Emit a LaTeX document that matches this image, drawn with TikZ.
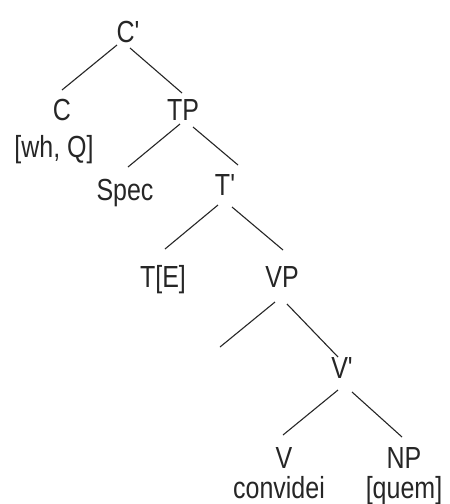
\documentclass[tikz,border=0pt]{standalone}
\usepackage{graphicx}
\usepackage{fontspec}
\setmainfont{Liberation Sans}[Ligatures=TeXOff]
\newcommand\stx[1]{\scalebox{1}[1.22]{#1}}
\begin{document}
\begin{tikzpicture}[x=1pt,y=-1pt,
  lab/.style={inner sep=0pt, anchor=base, text=black!85, font=\fontsize{25}{25}\selectfont},
  edge/.style={draw=black!85, line width=1.1pt}]
\useasboundingbox[fill=white] (0,0) rectangle (450,504);
\node[lab] (Cbar) at (128,42) {\stx{C'}};
\node[lab] (C) at (62,120) {\stx{C}};
\node[lab] (CF) at (54,157) {\stx{[wh, Q]}};
\node[lab] (TP) at (183,120) {\stx{TP}};
\node[lab] (Spec) at (125,200) {\stx{Spec}};
\node[lab] (Tbar) at (225,195) {\stx{T'}};
\node[lab] (TE) at (163,287) {\stx{T[E]}};
\node[lab] (VP) at (282,287) {\stx{VP}};
\coordinate (e) at (220,347);
\node[lab] (Vbar) at (342,378) {\stx{V'}};
\node[lab] (V) at (284,468) {\stx{V}};
\node[lab] (conv) at (279,498) {\stx{convidei}};
\node[lab] (NP) at (404,468) {\stx{NP}};
\node[lab] (quem) at (404,498) {\stx{[quem]}};
\draw[edge] ([shift={(-11,3)}]Cbar.base) -- ([shift={(0,-30)}]C.base);
\draw[edge] ([shift={(2,6)}]Cbar.base) -- ([shift={(-1,-27)}]TP.base);
\draw[edge] ([shift={(-3,4)}]TP.base) -- ([shift={(3,-33)}]Spec.base);
\draw[edge] ([shift={(10,7)}]TP.base) -- ([shift={(13,-30)}]Tbar.base);
\draw[edge] ([shift={(-7,10)}]Tbar.base) -- ([shift={(2,-38)}]TE.base);
\draw[edge] ([shift={(7,12)}]Tbar.base) -- ([shift={(1,-37)}]VP.base);
\draw[edge] ([shift={(-7,15)}]VP.base) -- (e);
\draw[edge] ([shift={(5,17)}]VP.base) -- ([shift={(-4,-21)}]Vbar.base);
\draw[edge] ([shift={(-4,12)}]Vbar.base) -- ([shift={(-1,-33)}]V.base);
\draw[edge] ([shift={(10,14)}]Vbar.base) -- ([shift={(-2,-31)}]NP.base);
\end{tikzpicture}
\end{document}
